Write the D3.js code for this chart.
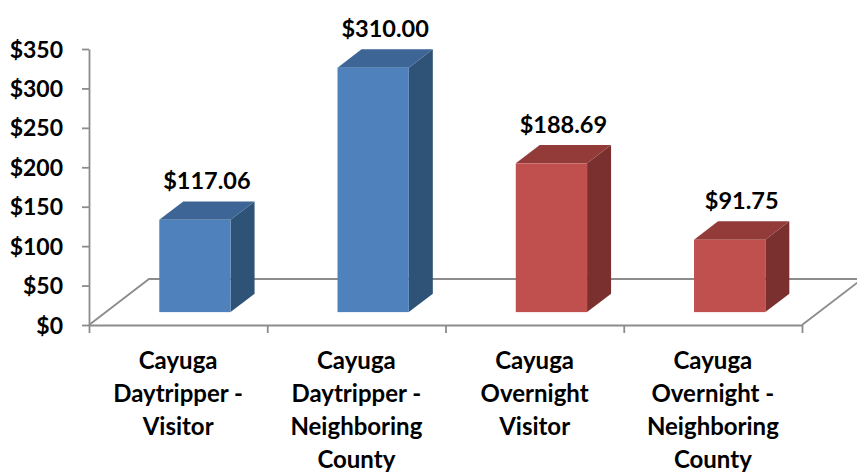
<!DOCTYPE html>
<html>
<head>
<meta charset="utf-8">
<script src="https://cdn.jsdelivr.net/npm/d3@7"></script>
<style>
  html, body { margin: 0; padding: 0; background: #ffffff; }
  svg { display: block; }
  text { font-family: Lato, "Open Sans", sans-serif; font-weight: 700; fill: #000; }
</style>
</head>
<body>
<svg id="chart" width="857" height="472"></svg>
<script>
// Spending per party, by visitor type
const categories = [
  ["Cayuga", "Daytripper -", "Visitor"],
  ["Cayuga", "Daytripper -", "Neighboring", "County"],
  ["Cayuga", "Overnight", "Visitor"],
  ["Cayuga", "Overnight -", "Neighboring", "County"]
];
const values = [117.06, 310.00, 188.69, 91.75];
const groups = ["Daytripper", "Daytripper", "Overnight", "Overnight"];
const yTicks = [0, 50, 100, 150, 200, 250, 300, 350];

// Face shades for each group: front, top, side
const palette = {
  Daytripper: { front: "#4F81BD", top: "#3D6596", side: "#2F5277" },
  Overnight:  { front: "#C0504D", top: "#923B39", side: "#7A302E" }
};

const svg = d3.select("#chart");
const plot = { left: 89, right: 802, bottom: 325, top: 49 };
const depth = { dx: 60, dy: -46 };        // floor depth projection
const barNear = 0.28, barFar = 0.68;     // bar position within floor depth

const keys = categories.map((c, i) => i);
const y = d3.scaleLinear().domain([0, 350]).range([plot.bottom, plot.top]);
const xCat = d3.scaleBand().domain(keys).range([plot.left, plot.right]).padding(0);
const xBar = d3.scaleBand().domain(keys).range([plot.left, plot.right]).paddingInner(0.6).paddingOuter(0.3);
const xEdge = d3.scaleLinear().domain([0, keys.length]).range([plot.left, plot.right]);

const lineColor = "#8C8C8C";

// Floor outline (back edge and sides)
const floor = svg.append("g").attr("fill", "none").attr("stroke", lineColor).attr("stroke-width", 1.8);
floor.append("path").attr("d", d3.line()([
  [plot.left, plot.bottom],
  [plot.left + depth.dx, plot.bottom + depth.dy],
  [plot.right + depth.dx, plot.bottom + depth.dy],
  [plot.right, plot.bottom]
]));

// Category axis along the front edge of the floor
const xAxis = svg.append("g")
  .attr("transform", `translate(0,${plot.bottom})`)
  .call(d3.axisBottom(xEdge).tickValues(d3.range(keys.length + 1)).tickSize(8).tickSizeOuter(0).tickFormat(""));
xAxis.selectAll("path, line").attr("stroke", lineColor).attr("stroke-width", 1.8);

// Value axis
const yAxis = svg.append("g")
  .attr("transform", `translate(${plot.left},0)`)
  .call(d3.axisLeft(y).tickValues(yTicks).tickSize(7).tickSizeOuter(0).tickPadding(19).tickFormat(d => "$" + d));
yAxis.selectAll("path, line").attr("stroke", lineColor).attr("stroke-width", 1.8);
yAxis.selectAll("text").attr("font-size", 23).attr("dy", "0.35em")
  .style("font-family", "Lato, 'Open Sans', sans-serif").style("font-weight", 700).attr("fill", "#000");

// 3D bars
const ox0 = depth.dx * barNear, oy0 = depth.dy * barNear;
const bdx = depth.dx * (barFar - barNear), bdy = depth.dy * (barFar - barNear);

const bars = svg.append("g").selectAll("g").data(keys).join("g");
bars.each(function (i) {
  const g = d3.select(this);
  const c = palette[groups[i]];
  const x0 = xBar(i) + ox0, x1 = x0 + xBar.bandwidth();
  const yb = y(0) + oy0, yt = y(values[i]) + oy0;
  // side face
  g.append("path").attr("fill", c.side).attr("d", d3.line()([
    [x1, yb], [x1, yt], [x1 + bdx, yt + bdy], [x1 + bdx, yb + bdy]
  ]) + "Z");
  // top face
  g.append("path").attr("fill", c.top).attr("d", d3.line()([
    [x0, yt], [x1, yt], [x1 + bdx, yt + bdy], [x0 + bdx, yt + bdy]
  ]) + "Z");
  // front face
  g.append("rect").attr("fill", c.front)
    .attr("x", x0).attr("y", yt).attr("width", x1 - x0).attr("height", yb - yt);
  // value label
  g.append("text")
    .attr("x", (x0 + x1 + bdx) / 2)
    .attr("y", yt + bdy - 12)
    .attr("text-anchor", "middle")
    .attr("font-size", 23.5)
    .text("$" + values[i].toFixed(2));
});

// Category labels
const catLabels = svg.append("g").selectAll("text").data(keys).join("text")
  .attr("text-anchor", "middle")
  .attr("font-size", 24);
catLabels.each(function (i) {
  const t = d3.select(this);
  categories[i].forEach((line, k) => {
    t.append("tspan")
      .attr("x", xCat(i) + xCat.bandwidth() / 2)
      .attr("y", 369 + k * 33)
      .text(line);
  });
});
</script>
</body>
</html>
